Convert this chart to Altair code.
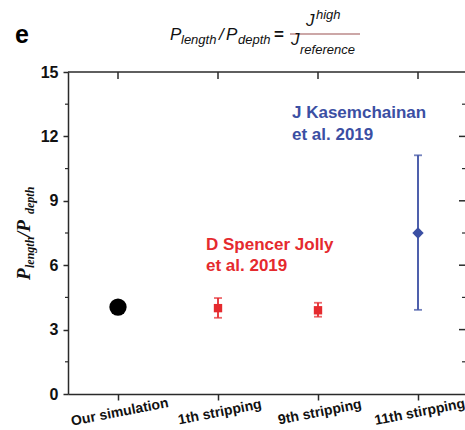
import json
import altair as alt
import pandas as pd

# ---- data ----
categories = ["Our simulation", "1th stripping", "9th stripping", "11th stirpping"]
values = [4.05, 4.0, 3.9, 7.5]
lower = [None, 3.55, 3.6, 3.92]
upper = [None, 4.47, 4.25, 11.12]
groups = ["sim", "jolly", "jolly", "kasem"]

y_major = [0, 3, 6, 9, 12, 15]
y_minor = [1.5, 4.5, 7.5, 10.5, 13.5]

RED = "#e52a2e"
BLUE = "#3b4fa3"
AXIS = "#2a2a2a"

df = pd.DataFrame({
    "pos": list(range(1, len(categories) + 1)),
    "cat": categories,
    "val": values,
    "lo": lower,
    "hi": upper,
    "grp": groups,
})

W, H = 397, 322
xscale = alt.Scale(domain=[0.5, 4.47], nice=False, zero=False)
yscale = alt.Scale(domain=[0, 15], nice=False, zero=False)
label_expr = json.dumps(categories) + "[datum.value - 1]"

base = alt.Chart(df)

xenc = alt.X("pos:Q", scale=xscale, title=None,
             axis=alt.Axis(values=[1, 2, 3, 4], labelExpr=label_expr, grid=False,
                           tickSize=6, tickWidth=1.5, tickColor=AXIS,
                           domainColor=AXIS, domainWidth=1.5,
                           labelFont="Liberation Sans", labelFontWeight="bold",
                           labelFontSize=14, labelColor="#111", labelAngle=349,
                           labelAlign="center", labelBaseline="top", labelPadding=5))
yenc = alt.Y("val:Q", scale=yscale, title=None,
             axis=alt.Axis(values=y_major, grid=False, tickSize=5, tickWidth=1.5,
                           tickColor=AXIS, domainColor=AXIS, domainWidth=1.5,
                           labelFont="Liberation Sans", labelFontWeight="bold",
                           labelFontSize=16, labelColor="#111", labelPadding=5))

pt_sim = base.transform_filter("datum.grp == 'sim'").mark_point(
    filled=True, opacity=1, shape="circle", size=300, color="#000000", strokeWidth=0
).encode(x=xenc, y=yenc)
pt_jolly = base.transform_filter("datum.grp == 'jolly'").mark_point(
    filled=True, opacity=1, shape="square", size=70, color=RED, strokeWidth=0
).encode(x=alt.X("pos:Q", scale=xscale), y=alt.Y("val:Q", scale=yscale))
pt_kasem = base.transform_filter("datum.grp == 'kasem'").mark_point(
    filled=True, opacity=1, shape="diamond", size=130, color=BLUE, strokeWidth=0
).encode(x=alt.X("pos:Q", scale=xscale), y=alt.Y("val:Q", scale=yscale))

err = base.transform_filter("datum.lo != null").encode(
    x=alt.X("pos:Q", scale=xscale),
    color=alt.Color("grp:N", scale=alt.Scale(domain=["sim", "jolly", "kasem"],
                                              range=["#000000", RED, BLUE]), legend=None),
)
err_line = err.mark_rule(strokeWidth=1.8).encode(
    y=alt.Y("lo:Q", scale=yscale), y2="hi:Q")
cap_lo = err.mark_tick(orient="horizontal", size=8, thickness=1.8).encode(
    y=alt.Y("lo:Q", scale=yscale))
cap_hi = err.mark_tick(orient="horizontal", size=8, thickness=1.8).encode(
    y=alt.Y("hi:Q", scale=yscale))

# frame pieces: top border, top ticks, right ticks, left minor ticks
top_line = alt.Chart(pd.DataFrame({"a": [0]})).mark_rule(color=AXIS, strokeWidth=1.5).encode(
    x=alt.value(0), x2=alt.value(W), y=alt.value(0))
top_ticks = base.mark_rule(color=AXIS, strokeWidth=1.5).encode(
    x=alt.X("pos:Q", scale=xscale), y=alt.value(0), y2=alt.value(7))
tick_major_df = pd.DataFrame({"t": y_major[1:-1]})
tick_minor_df = pd.DataFrame({"t": y_minor})
right_major = alt.Chart(tick_major_df).mark_rule(color=AXIS, strokeWidth=1.5).encode(
    y=alt.Y("t:Q", scale=yscale), x=alt.value(W - 6), x2=alt.value(W))
right_minor = alt.Chart(tick_minor_df).mark_rule(color=AXIS, strokeWidth=1.2).encode(
    y=alt.Y("t:Q", scale=yscale), x=alt.value(W - 3), x2=alt.value(W))
left_minor = alt.Chart(tick_minor_df).mark_rule(color=AXIS, strokeWidth=1.2).encode(
    y=alt.Y("t:Q", scale=yscale), x=alt.value(-3), x2=alt.value(0))


def txt(s, x, y, size, color="#111", font="Liberation Sans", weight="normal",
        style="normal", angle=0, baseline="alphabetic", align="left"):
    return alt.Chart(pd.DataFrame({"s": [s]})).mark_text(
        font=font, fontSize=size, fontWeight=weight, fontStyle=style, color=color,
        angle=angle, baseline=baseline, align=align).encode(
        x=alt.value(x), y=alt.value(y), text="s:N")


OX, OY = 68, 72  # plot origin in the page
texts = [
    # annotations
    txt("J Kasemchainan", 292 - OX, 113 - OY, 17, BLUE, weight="bold", baseline="middle"),
    txt("et al. 2019", 292 - OX, 135 - OY, 17, BLUE, weight="bold", baseline="middle"),
    txt("D Spencer Jolly", 206 - OX, 245 - OY, 17, RED, weight="bold", baseline="middle"),
    txt("et al. 2019", 206 - OX, 266 - OY, 17, RED, weight="bold", baseline="middle"),
    # panel letter
    txt("e", 15 - OX, 43 - OY, 25, "#000", weight="bold"),
    # header formula
    txt("P", 170 - OX, 40 - OY, 17, style="italic"),
    txt("length", 181 - OX, 44 - OY, 13, style="italic"),
    txt("/", 219 - OX, 40 - OY, 17, style="italic"),
    txt("P", 226 - OX, 40 - OY, 17, style="italic"),
    txt("depth", 238 - OX, 44 - OY, 13, style="italic"),
    txt("=", 274 - OX, 40 - OY, 17, weight="bold"),
    txt("J", 306 - OX, 26 - OY, 17, style="italic"),
    txt("high", 316 - OX, 19 - OY, 13, style="italic"),
    txt("J", 291 - OX, 45 - OY, 17, style="italic"),
    txt("reference", 300 - OX, 54 - OY, 13, style="italic"),
    # y-axis title (rotated)
    txt("P", 30 - OX, 280 - OY, 19, font="Liberation Serif", weight="bold", style="italic", angle=270),
    txt("length", 34 - OX, 268 - OY, 12, font="Liberation Serif", weight="bold", style="italic", angle=270),
    txt("/P", 30 - OX, 237 - OY, 19, font="Liberation Serif", weight="bold", style="italic", angle=270),
    txt("depth", 34 - OX, 214 - OY, 12, font="Liberation Serif", weight="bold", style="italic", angle=270),
]

frac_line = alt.Chart(pd.DataFrame({"a": [0]})).mark_rule(color="#9a5050", strokeWidth=1.2).encode(
    x=alt.value(290 - OX), x2=alt.value(360 - OX), y=alt.value(34 - OY))

chart = alt.layer(
    top_line, top_ticks, right_major, right_minor, left_minor,
    err_line, cap_lo, cap_hi, pt_sim, pt_jolly, pt_kasem, frac_line, *texts
).properties(
    width=W, height=H,
    autosize=alt.AutoSizeParams(type="none"),
    padding={"left": OX, "top": OY, "right": 0, "bottom": 430 - OY - H},
    background="white",
).configure_view(stroke=None)

chart.save("out.html", embed_options={"renderer": "svg", "actions": False})
